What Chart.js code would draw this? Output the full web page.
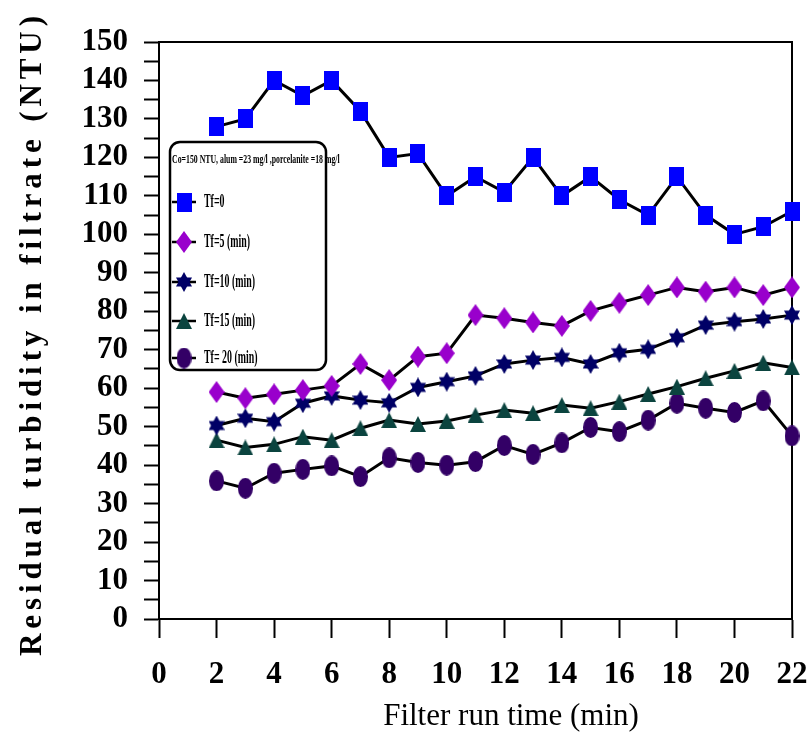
<!DOCTYPE html>
<html>
<head>
<meta charset="utf-8">
<script src="https://cdn.jsdelivr.net/npm/chart.js@4"></script>
<style>
  body { margin: 0; background: #fff; }
  #wrap { width: 810px; height: 743px; }
</style>
</head>
<body>
<div id="wrap"><canvas id="chart" width="810" height="743"></canvas></div>
<script>
// filter run time (min)
const runTimes = [2, 3, 4, 5, 6, 7, 8, 9, 10, 11, 12, 13, 14, 15, 16, 17, 18, 19, 20, 21, 22];

// residual turbidity (NTU) for each ripening time Tf
const tf0  = [128, 130, 140, 136, 140, 132, 120, 121, 110, 115, 111, 120, 110, 115, 109, 105, 115, 105, 100, 102, 106];
const tf5  = [59, 57.4, 58.4, 59.5, 60.6, 66.3, 62.1, 68.2, 69.1, 79, 78.2, 77.1, 76.2, 80.1, 82.2, 84.2, 86.2, 85.1, 86.2, 84.2, 86.2];
const tf10 = [50.3, 52.2, 51.3, 56.1, 58, 56.9, 56.2, 60.2, 61.7, 63.2, 66.3, 67.3, 68, 66.3, 69.2, 70.1, 73.1, 76.4, 77.3, 78, 79];
const tf15 = [46.5, 44.6, 45.4, 47.4, 46.5, 49.6, 51.7, 50.7, 51.5, 53, 54.3, 53.5, 55.6, 54.8, 56.5, 58.5, 60.4, 62.6, 64.5, 66.6, 65.4];
const tf20 = [35.9, 34, 37.9, 38.9, 39.8, 37, 41.9, 40.7, 40, 40.9, 45.1, 42.8, 45.8, 49.8, 48.7, 51.7, 56.1, 54.8, 53.7, 56.7, 47.6];

const seriesLabels = ['Tf=0', 'Tf=5 (min)', 'Tf=10 (min)', 'Tf=15 (min)', 'Tf= 20 (min)'];
const legendTitle = 'Co=150 NTU, alum =23 mg/l ,porcelanite =18 mg/l';

const xTitle = 'Filter run time (min)';
const yTitle = 'Residual turbidity in filtrate (NTU)';

// marker sprites
function sprite(w, h, draw) {
  const c = document.createElement('canvas');
  c.width = w; c.height = h;
  const g = c.getContext('2d');
  draw(g, w, h);
  return c;
}

const squareMark = sprite(15, 19, (g, w, h) => {
  g.fillStyle = '#0000ff';
  g.fillRect(0, 0, w, h);
});

const diamondMark = sprite(16, 22, (g, w, h) => {
  g.fillStyle = '#9900cc';
  g.beginPath();
  g.moveTo(w / 2, 0); g.lineTo(w, h / 2); g.lineTo(w / 2, h); g.lineTo(0, h / 2);
  g.closePath(); g.fill();
});

const starMark = sprite(16, 20, (g, w, h) => {
  g.fillStyle = '#000066';
  g.beginPath();
  g.moveTo(w / 2, 0); g.lineTo(w, h * 0.72); g.lineTo(0, h * 0.72); g.closePath();
  g.fill();
  g.beginPath();
  g.moveTo(w / 2, h); g.lineTo(w, h * 0.28); g.lineTo(0, h * 0.28); g.closePath();
  g.fill();
});

const triangleMark = sprite(16, 16, (g, w, h) => {
  g.fillStyle = '#0b443f';
  g.beginPath();
  g.moveTo(w / 2, 0); g.lineTo(w, h); g.lineTo(0, h); g.closePath();
  g.fill();
});

const ellipseMark = sprite(15, 21, (g, w, h) => {
  g.fillStyle = '#330066';
  g.beginPath();
  g.ellipse(w / 2, h / 2, w / 2, h / 2, 0, 0, Math.PI * 2);
  g.fill();
});

const seriesValues = [tf0, tf5, tf10, tf15, tf20];
const markers = [squareMark, diamondMark, starMark, triangleMark, ellipseMark];

const datasets = seriesValues.map((vals, i) => ({
  label: seriesLabels[i],
  data: runTimes.map((t, j) => ({ x: t, y: vals[j] })),
  borderColor: '#000',
  borderWidth: 3,
  pointStyle: markers[i],
  pointRadius: 9,
  tension: 0,
  clip: false
}));

const serif = 'Liberation Serif, "Times New Roman", serif';

// frame on top/right of plot area
const framePlugin = {
  id: 'frame',
  beforeDatasetsDraw(chart) {
    const { ctx, chartArea: a } = chart;
    ctx.save();
    ctx.strokeStyle = '#000';
    ctx.lineWidth = 2;
    ctx.beginPath();
    ctx.moveTo(a.left, a.top);
    ctx.lineTo(a.right, a.top);
    ctx.lineTo(a.right, a.bottom);
    ctx.stroke();
    ctx.restore();
  }
};

// boxed legend in the upper left of the plot
const boxLegend = {
  id: 'boxLegend',
  afterDatasetsDraw(chart) {
    const ctx = chart.ctx;
    const x0 = 170, y0 = 142, w = 156, h = 228, r = 10;
    ctx.save();
    ctx.fillStyle = '#fff';
    ctx.strokeStyle = '#000';
    ctx.lineWidth = 2.5;
    ctx.beginPath();
    ctx.roundRect(x0, y0, w, h, r);
    ctx.fill();
    ctx.stroke();

    ctx.fillStyle = '#000';
    ctx.textBaseline = 'middle';
    ctx.save();
    ctx.translate(x0 + 2, y0 + 18);
    ctx.scale(0.6, 1);
    ctx.font = 'bold 13px ' + serif;
    ctx.fillText(legendTitle, 0, 0);
    ctx.restore();

    const rows = [202, 242, 282, 321, 358];
    chart.data.datasets.forEach((ds, i) => {
      const y = rows[i];
      ctx.strokeStyle = '#000';
      ctx.lineWidth = 2.5;
      ctx.beginPath();
      ctx.moveTo(x0 + 2, y);
      ctx.lineTo(x0 + 26, y);
      ctx.stroke();
      const m = ds.pointStyle;
      ctx.drawImage(m, x0 + 14 - m.width / 2, y - m.height / 2);
      ctx.save();
      ctx.translate(x0 + 34, y);
      ctx.scale(0.55, 1);
      ctx.font = 'bold 18px ' + serif;
      ctx.fillText(ds.label, 0, 0);
      ctx.restore();
    });
    ctx.restore();
  }
};

// axis titles
const axisTitles = {
  id: 'axisTitles',
  afterDraw(chart) {
    const ctx = chart.ctx;
    ctx.save();
    ctx.fillStyle = '#000';
    ctx.textAlign = 'center';
    ctx.textBaseline = 'middle';

    ctx.font = '31px ' + serif;
    ctx.fillText(xTitle, 511, 717);

    ctx.translate(33, 336);
    ctx.rotate(-Math.PI / 2);
    ctx.font = 'bold 31px ' + serif;
    const plain = ctx.measureText(yTitle).width;
    const gap = Math.max(0, (640 - plain) / (yTitle.length - 1));
    if ('letterSpacing' in ctx) {
      ctx.letterSpacing = gap.toFixed(2) + 'px';
      // letterSpacing adds trailing space too; shift to keep centred
      ctx.fillText(yTitle, gap / 2, 0);
    } else {
      ctx.fillText(yTitle, 0, 0);
    }
    ctx.restore();
  }
};

new Chart(document.getElementById('chart'), {
  type: 'line',
  data: { datasets },
  options: {
    responsive: false,
    animation: false,
    devicePixelRatio: 1,
    layout: { padding: { top: 42, right: 18, left: 0, bottom: 0 } },
    plugins: {
      legend: { display: false },
      tooltip: { enabled: false }
    },
    scales: {
      x: {
        type: 'linear',
        min: 0,
        max: 22,
        afterFit(scale) {
          scale.height = 124;
          scale.paddingLeft = 0;
          scale.paddingRight = 0;
        },
        ticks: {
          stepSize: 2,
          autoSkip: false,
          color: '#000',
          padding: 18,
          font: { family: serif, size: 31, weight: 'bold' }
        },
        grid: {
          drawOnChartArea: false,
          drawTicks: true,
          tickLength: 19,
          tickWidth: 2,
          tickColor: '#000'
        },
        border: { display: true, color: '#000', width: 2 }
      },
      y: {
        min: 0,
        max: 150,
        afterFit(scale) {
          scale.width = 159;
          scale.paddingTop = 0;
          scale.paddingBottom = 0;
        },
        ticks: {
          stepSize: 5,
          autoSkip: false,
          color: '#000',
          padding: 16,
          font: { family: serif, size: 31, weight: 'bold' },
          callback: v => (v % 10 === 0 ? v : '')
        },
        grid: {
          drawOnChartArea: false,
          drawTicks: true,
          tickLength: 15,
          tickWidth: 2,
          tickColor: '#000'
        },
        border: { display: true, color: '#000', width: 2 }
      }
    }
  },
  plugins: [framePlugin, boxLegend, axisTitles]
});
</script>
</body>
</html>
